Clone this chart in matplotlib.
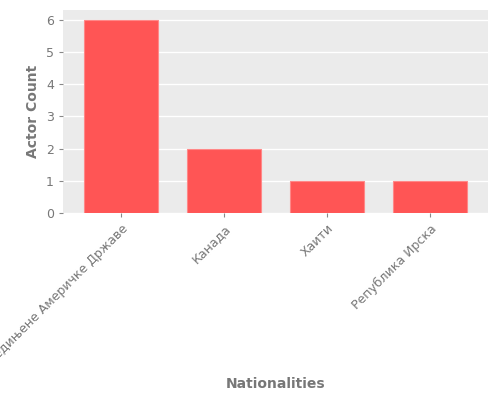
import matplotlib
matplotlib.use("Agg")
import matplotlib.pyplot as plt

nationalities = ["Сједињене Америчке Државе", "Канада", "Хаити", "Република Ирска"]
actor_counts = [6, 2, 1, 1]

fig = plt.figure(figsize=(5, 4), dpi=100)
ax = fig.add_axes([0.126, 0.4675, 0.85, 0.5075])
ax.set_facecolor("#EBEBEB")
ax.grid(axis="y", color="white", linewidth=1)
ax.set_axisbelow(True)
for s in ax.spines.values():
    s.set_visible(False)

x = range(len(nationalities))
ax.bar(x, actor_counts, width=0.72, color="#FF5555", edgecolor="#FF8888", linewidth=0.8)
ax.set_xlim(-0.565, len(nationalities) - 1 + 0.565)
ax.set_ylim(0, 6.3)
ax.set_xticks(list(x))
ax.set_xticklabels(nationalities, rotation=45, ha="right", rotation_mode="anchor")
ax.tick_params(colors="#888888", labelsize=9, length=3, labelcolor="#777777")

ax.set_ylabel("Actor Count", fontsize=10, color="#777777", fontweight="bold")
ax.yaxis.set_label_coords(-0.055, 0.5)
ax.set_xlabel("Nationalities", fontsize=10, color="#777777", fontweight="bold")
ax.xaxis.set_label_coords(0.5, -0.81)

fig.savefig("out.png", dpi=100)
